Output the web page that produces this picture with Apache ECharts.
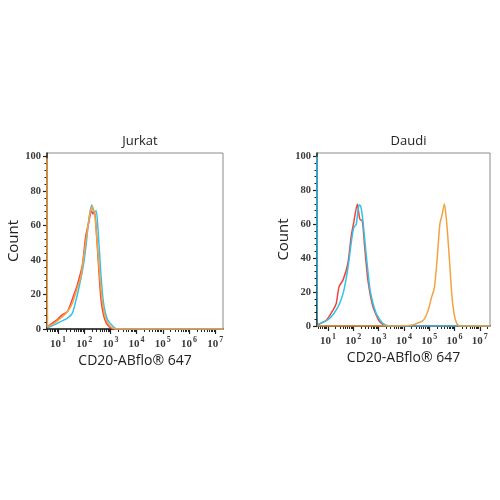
<!DOCTYPE html>
<html>
<head>
<meta charset="utf-8">
<script src="https://cdn.jsdelivr.net/npm/echarts@6/dist/echarts.min.js"></script>
<style>
html,body{margin:0;padding:0;background:#fff;}
#chart{width:500px;height:500px;}
</style>
</head>
<body>
<div id="chart"></div>
<script>
// Panel titles and axis texts
const panelTitles = ['Jurkat', 'Daudi'];
const xAxisName = 'CD20-ABflo\u00AE 647';
const yAxisName = 'Count';
// x values are log10 of fluorescence intensity (decades)
const xTickDecades = [1, 2, 3, 4, 5, 6, 7];
const yTicks = [0, 20, 40, 60, 80, 100];

// Jurkat: [log10 intensity, count]
const jurkatRed = [[0.59,1.3],[0.91,4.7],[1.16,8.2],[1.36,10],[1.61,20],[1.74,25.7],[1.93,37],[2.06,54],[2.18,62],[2.27,68.6],[2.34,66.7],[2.40,67.6],[2.48,53],[2.57,31.6],[2.65,16],[2.78,5.8],[2.95,1.3],[3.14,0],[7.3,0]];
const jurkatCyan = [[0.59,0.7],[0.97,3.3],[1.36,6.3],[1.55,9.2],[1.74,20],[1.93,33.5],[2.06,47],[2.18,63.7],[2.29,72],[2.37,67.6],[2.46,68.6],[2.54,55],[2.63,33.5],[2.73,16],[2.88,5.8],[3.07,2],[3.26,0],[7.3,0]];
const jurkatOrange = [[0.58,99],[0.60,1.3],[0.85,3.3],[1.10,6.3],[1.36,10],[1.55,15],[1.74,24],[1.87,30],[1.99,43],[2.12,57],[2.22,67],[2.31,71],[2.40,67],[2.50,49],[2.60,30],[2.69,16],[2.82,6],[3.01,1.3],[3.20,0],[7.3,0]];

// Daudi
const daudiRed = [[0.61,0.8],[0.94,3.4],[1.20,9.3],[1.33,13.3],[1.44,23.2],[1.60,27.2],[1.79,37],[1.92,53],[2.02,61],[2.16,72],[2.26,63],[2.36,62],[2.45,47],[2.58,27],[2.78,11.3],[3.05,2.4],[3.31,0],[7.4,0]];
const daudiCyan = [[0.57,100],[0.60,0.8],[0.74,1.8],[1.07,4.4],[1.40,11.3],[1.60,19.2],[1.79,34],[1.92,49],[2.02,58],[2.12,60],[2.23,71.5],[2.30,70.5],[2.39,61],[2.52,41],[2.67,21],[2.91,7.3],[3.18,1.4],[3.44,0],[7.4,0]];
const daudiOrange = [[0.57,0],[3.85,0],[4.37,0.8],[4.77,3.4],[4.96,9.3],[5.10,17.3],[5.20,22.2],[5.30,37],[5.40,57],[5.43,61],[5.50,65],[5.60,72],[5.69,61],[5.79,41],[5.89,19],[5.98,7.3],[6.09,1.4],[6.22,0],[7.4,0]];

const colors = {red:'#f0453a', cyan:'#2ec3ec', orange:'#f6a140'};

const panels = [
  {left:47, top:153, width:176, height:176, xmin:0.58, xmax:7.3, ymax:102, series:[jurkatRed, jurkatCyan, jurkatOrange]},
  {left:317, top:153, width:173, height:173, xmin:0.57, xmax:7.4, ymax:102, series:[daudiRed, daudiCyan, daudiOrange]}
];

function minorTickValues(min, max){
  const out = [];
  for (let n = 0; n <= 7; n++) {
    for (let k = 2; k <= 9; k++) {
      const v = n + Math.log10(k);
      if (v > min && v < max) out.push(v);
    }
  }
  return out;
}

const grids = [], xAxes = [], yAxes = [], series = [], titles = [];
panels.forEach((p, i) => {
  grids.push({left:p.left, top:p.top, width:p.width, height:p.height, show:true, borderColor:'#8a8a8a', borderWidth:1, containLabel:false});
  titles.push({text:panelTitles[i], left:p.left + p.width/2, top:130, textAlign:'center',
    textStyle:{fontFamily:'Open Sans', fontSize:13, fontWeight:'normal', color:'#222'}});
  // main x axis with decade labels
  xAxes.push({type:'value', gridIndex:i, min:p.xmin, max:p.xmax, position:'bottom',
    name:xAxisName, nameLocation:'middle', nameGap:25,
    nameTextStyle:{fontFamily:'Open Sans', fontSize:14, color:'#222'},
    axisLine:{show:true, onZero:false, lineStyle:{color:'#222', width:1.5}},
    axisTick:{show:true, length:5, customValues:xTickDecades, lineStyle:{color:'#222', width:1.2}},
    axisLabel:{show:true, customValues:xTickDecades, margin:7,
      formatter: v => '{a|10}{b|' + Math.round(v) + '}',
      rich:{a:{fontFamily:'Liberation Serif', fontSize:11, fontWeight:'bold', color:'#3a3a3a'},
            b:{fontFamily:'Liberation Serif', fontSize:8, fontWeight:'bold', color:'#3a3a3a', padding:[0,0,8,1]}}},
    splitLine:{show:false}});
  // overlay x axis with minor log ticks
  xAxes.push({type:'value', gridIndex:i, min:p.xmin, max:p.xmax, position:'bottom', offset:0,
    axisLine:{show:false, onZero:false},
    axisTick:{show:true, length:3, customValues:minorTickValues(p.xmin, p.xmax), lineStyle:{color:'#222', width:1}},
    axisLabel:{show:false}, splitLine:{show:false}});
  yAxes.push({type:'value', gridIndex:i, min:0, max:p.ymax, interval:20,
    name:yAxisName, nameLocation:'middle', nameGap:25,
    nameTextStyle:{fontFamily:'Open Sans', fontSize:15, color:'#222'},
    axisLine:{show:true, lineStyle:{color:'#222', width:1.5}},
    axisTick:{show:true, length:4, customValues:yTicks, lineStyle:{color:'#222', width:1.2}},
    minorTick:{show:true, splitNumber:5, length:2.5, lineStyle:{color:'#222', width:1}},
    axisLabel:{customValues:yTicks, margin:6, fontFamily:'Liberation Serif', fontSize:10.5, fontWeight:'bold', color:'#3a3a3a'},
    splitLine:{show:false}});
  const cols = [colors.red, colors.cyan, colors.orange];
  p.series.forEach((d, j) => {
    series.push({type:'line', xAxisIndex:i*2, yAxisIndex:i, data:d, showSymbol:false, symbol:'none',
      smooth:0.2, lineStyle:{color:cols[j], width:1.5}, itemStyle:{color:cols[j]}, z:2+j, animation:false, clip:true});
  });
});

const chart = echarts.init(document.getElementById('chart'), null, {renderer:'canvas'});
chart.setOption({animation:false, backgroundColor:'#fff', title:titles, grid:grids, xAxis:xAxes, yAxis:yAxes, series:series});
</script>
</body>
</html>
